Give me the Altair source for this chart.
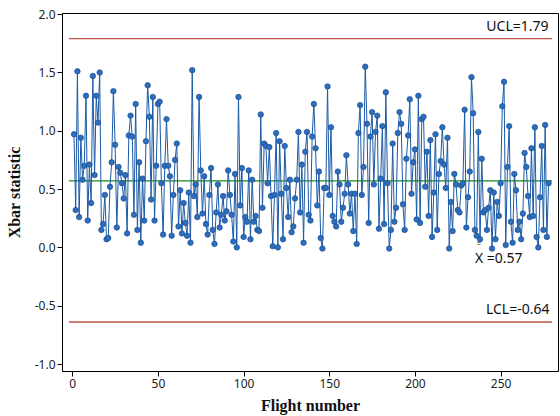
import altair as alt
import pandas as pd

# Xbar values, in flight order
xbar_values = [
    0.97, 0.32, 1.51, 0.26, 0.94, 0.58, 0.70, 1.30, 0.23, 0.71, 0.38, 1.47, 0.62, 1.30, 1.07, 1.50,
    0.15, 0.20, 0.45, 0.07, 0.08, 0.52, 0.73, 1.34, 0.88, 0.17, 0.69, 0.64, 0.55, 0.42, 0.62, 0.12,
    0.96, 1.13, 0.95, 0.28, 1.23, 0.15, 0.73, 0.04, 0.59, 0.23, 0.91, 1.39, 1.12, 0.41, 1.29, 0.23,
    0.70, 1.23, 1.25, 0.55, 0.11, 0.70, 1.10, 0.70, 0.61, 0.10, 0.45, 0.75, 0.89, 0.18, 0.49, 0.12,
    0.38, 0.21, 0.10, 0.47, 0.04,
    1.52, 0.44, 0.54, 0.26, 1.29, 0.66, 0.29, 0.61, 0.20, 0.11, 0.45, 0.68, 0.15, 0.03, 0.30, 0.54,
    0.17, 0.28, 0.44, 0.23, 0.31, 0.66, 0.45, 0.28, 0.05, 0.63, 0.00, 1.29, 0.36, 0.68, 0.09, 0.26,
    0.22, 0.66, 0.07, 0.58,
    0.22, 0.27, 0.15, 0.14, 1.14, 0.34, 0.89, 0.87, 0.55, 0.86, 0.44, 0.01, 0.45, 0.98, 0.00, 0.91,
    0.46, 0.07, 0.87, 0.51, 0.26, 0.58, 0.13, 0.18, 0.42, 0.58, 0.99, 0.30, 0.71, 0.04, 0.82, 0.99,
    0.28, 0.23, 0.95, 1.23,
    0.85, 0.36, 0.65, 0.08, -0.01, 0.51, 0.51, 1.38, 0.45, 1.03, 0.27, 0.22, 0.18, 0.65, 0.54, 0.22,
    0.34, 0.46, 0.79, 0.54, 0.29, 0.46, 0.14, 0.46, 0.03, 0.98, 1.22, 0.45, 0.69, 1.55, 1.06, 0.21,
    0.95, 1.16, 0.54, 0.99, 1.13, 0.16,
    0.59, 1.04, 0.20, 1.33, 0.55, -0.01, 0.15, 0.89, 0.22, 0.34, 0.98, 1.16, 1.06, 0.37, 0.15, 0.76,
    0.96, 1.27, 0.46, 0.73, 0.84, 0.24, 1.30, 0.21, 1.10, 1.12, 0.52, 0.82, 0.27, 0.92, 0.09, 0.47,
    0.97, 0.15, 0.63, 0.74,
    1.03, 0.71, 0.51, 0.94, -0.01, 0.39, 0.14, 0.63, 0.54, 0.32, 0.30, 0.53, 0.55, 1.18, 0.17, 0.43,
    0.65, 1.46, 1.15, 0.15, 0.10, 0.99, 0.07, 0.76, 0.30, 0.32, 0.15, 0.34, 0.49, -0.01, 0.47, 0.07,
    0.39, 0.27, 0.55, 1.21, 1.42,
    0.02, 0.69, 1.04, 0.22, 0.04, 0.63, 0.49, 0.15, 0.22, 0.07, 0.29, 0.81, 0.69, 0.44, 0.26, 0.85,
    0.27, 1.03, 0.09, 0.00, 0.43, 0.87, 0.15, 1.05, 0.09, 0.55,
]
flights = list(range(1, len(xbar_values) + 1))

limit_names = ["UCL", "CENTER", "LCL"]
limit_values = [1.79, 0.57, -0.64]
limit_colors = ["#c0504d", "#1a8a1a", "#c0504d"]
x_ticks = [0, 50, 100, 150, 200, 250]
y_ticks = [-1.0, -0.5, 0.0, 0.5, 1.0, 1.5, 2.0]

df = pd.DataFrame({"flight": flights, "xbar": xbar_values})
limits = pd.DataFrame({"name": limit_names, "y": limit_values,
                       "x0": [-2] * 3, "x1": [280] * 3, "color": limit_colors})

FONT = "Noto Sans"
xscale = alt.Scale(domain=[-6, 283.5], nice=False, zero=False)
yscale = alt.Scale(domain=[-1.06, 2.01], nice=False, zero=False)

x_axis = alt.Axis(values=x_ticks, title="Flight number", grid=False, tickSize=5,
                  labelFont=FONT, labelFontSize=12, labelColor="#222",
                  titleFont="Liberation Serif", titleFontSize=16, titleFontWeight="bold",
                  titleColor="#111", titleX=248, titleY=34, titleBaseline="middle",
                  domainColor="#000", tickColor="#000")
y_axis = alt.Axis(values=y_ticks, title="Xbar statistic", grid=False, tickSize=5,
                  labelExpr="replace(format(datum.value, '.1f'), '\u2212', '-')",
                  labelFont=FONT, labelFontSize=12, labelColor="#222",
                  titleFont="Liberation Serif", titleFontSize=16, titleFontWeight="bold",
                  titleColor="#111", titleX=-48, titleY=179, titleBaseline="middle",
                  domainColor="#000", tickColor="#000")

base = alt.Chart(df)
line = base.mark_line(color="#1b5aa6", strokeWidth=1).encode(
    x=alt.X("flight:Q", scale=xscale, axis=x_axis),
    y=alt.Y("xbar:Q", scale=yscale, axis=y_axis),
)
pts = base.mark_circle(size=30, color="#2c6dbd", opacity=1, stroke="#1a4f91", strokeWidth=0.7).encode(
    x=alt.X("flight:Q", scale=xscale),
    y=alt.Y("xbar:Q", scale=yscale),
)

rules = alt.Chart(limits).mark_rule(strokeWidth=1.3).encode(
    x=alt.X("x0:Q", scale=xscale),
    x2="x1:Q",
    y=alt.Y("y:Q", scale=yscale),
    color=alt.Color("color:N", scale=None),
)

lab_ucl = alt.Chart(limits[limits.name == "UCL"]).transform_calculate(
    lbl="'UCL=' + format(datum.y, '.2f')", xl="278"
).mark_text(align="right", baseline="middle", dy=-12, font=FONT, fontSize=14, color="#111").encode(
    x=alt.X("xl:Q", scale=xscale), y=alt.Y("y:Q", scale=yscale), text="lbl:N")

lab_lcl = alt.Chart(limits[limits.name == "LCL"]).transform_calculate(
    lbl="'LCL=-' + format(abs(datum.y), '.2f')", xl="278.5"
).mark_text(align="right", baseline="middle", dy=-12, font=FONT, fontSize=14, color="#111").encode(
    x=alt.X("xl:Q", scale=xscale), y=alt.Y("y:Q", scale=yscale), text="lbl:N")

center_df = limits[limits.name == "CENTER"]
lab_ctr = alt.Chart(center_df).transform_calculate(
    lbl="'X =' + format(datum.y, '.2f')", xl="235"
).mark_text(align="left", baseline="middle", dy=78, font=FONT, fontSize=14, color="#111").encode(
    x=alt.X("xl:Q", scale=xscale), y=alt.Y("y:Q", scale=yscale), text="lbl:N")
lab_bar = alt.Chart(center_df).transform_calculate(xl="235").mark_text(
    align="left", baseline="middle", dy=64, dx=1.5, font=FONT, fontSize=8, color="#111", text="="
).encode(x=alt.X("xl:Q", scale=xscale), y=alt.Y("y:Q", scale=yscale))

chart = alt.layer(rules, line, pts, lab_ucl, lab_lcl, lab_ctr, lab_bar).properties(
    width=496, height=358,
    autosize=alt.AutoSizeParams(type="none"),
    padding={"left": 62, "top": 13, "right": 2, "bottom": 45},
    background="white",
).configure_view(stroke="#000", strokeWidth=1)

chart.save("out.html", embed_options={"renderer": "svg", "actions": False})
